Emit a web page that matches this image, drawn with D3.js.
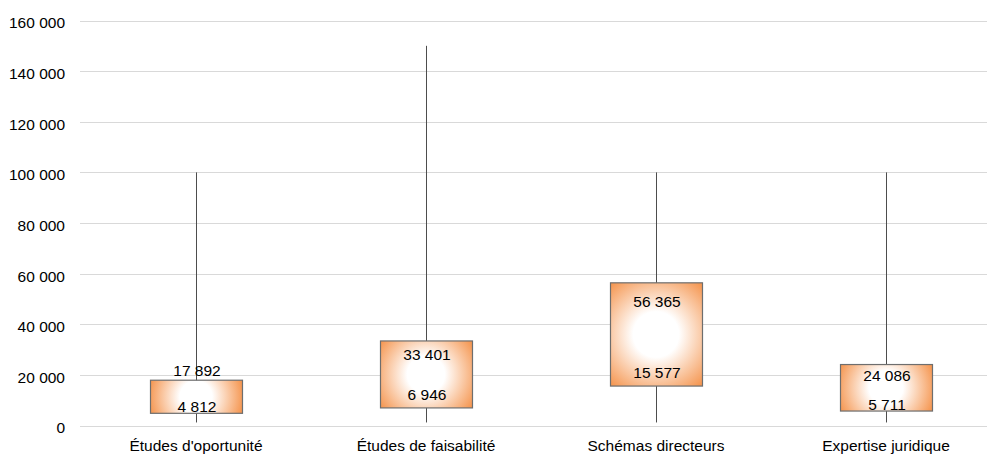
<!DOCTYPE html>
<html>
<head>
<meta charset="utf-8">
<script src="https://cdn.jsdelivr.net/npm/d3@7"></script>
<style>
  html, body { margin: 0; padding: 0; background: #fff; }
  svg { display: block; font-family: "Liberation Sans", Arial, sans-serif; }
</style>
</head>
<body>
<svg id="chart" width="987" height="454"></svg>
<script>
const categories = ["Études d'oportunité", "Études de faisabilité", "Schémas directeurs", "Expertise juridique"];
const minValues = [1200, 1200, 1200, 1200];
const q1Values = [4812, 6946, 15577, 5711];
const q3Values = [17892, 33401, 56365, 24086];
const maxValues = [100000, 150000, 100000, 100000];
const yTicks = [0, 20000, 40000, 60000, 80000, 100000, 120000, 140000, 160000];

const svg = d3.select("#chart");
const fmt = v => d3.format(",")(v).replace(/,/g, " ");

const x = d3.scaleBand().domain(categories).range([81, 1001]).paddingInner(0.6).paddingOuter(0.3);
const y = d3.scaleLinear().domain([0, 160000]).range([425.5, 20.5]);

// gridlines
svg.append("g").selectAll("line").data(yTicks).join("line")
  .attr("x1", 80).attr("x2", 987)
  .attr("y1", d => Math.round(y(d)) + 0.5).attr("y2", d => Math.round(y(d)) + 0.5)
  .attr("stroke", "#d9d9d9").attr("stroke-width", 1);

// y axis labels
const yAxis = d3.axisLeft(y).tickValues(yTicks).tickFormat(fmt).tickSize(0).tickPadding(0);
const ga = svg.append("g").attr("transform", "translate(65,0)").call(yAxis);
ga.select(".domain").remove();
ga.selectAll("text").attr("font-size", "15.5px").attr("fill", "#000")
  .attr("font-family", "'Liberation Sans', Arial, sans-serif")
  .attr("dy", "0.48em");

// x axis labels
const xAxis = d3.axisBottom(x).tickSize(0).tickPadding(0);
const gx = svg.append("g").attr("transform", "translate(0,440)").call(xAxis);
gx.select(".domain").remove();
gx.selectAll("text").attr("font-size", "15.5px").attr("fill", "#000")
  .attr("font-family", "'Liberation Sans', Arial, sans-serif")
  .attr("dy", "0.71em");

const data = categories.map((c, i) => ({ c, i, min: minValues[i], q1: q1Values[i], q3: q3Values[i], max: maxValues[i] }));

// gradients
const defs = svg.append("defs");
data.forEach(d => {
  const cx = x(d.c) + x.bandwidth() / 2;
  const cy = (y(d.q1) + y(d.q3)) / 2;
  const w = x.bandwidth(), h = y(d.q1) - y(d.q3);
  const r = 0.55 * Math.sqrt(w * w + h * h);
  const g = defs.append("radialGradient").attr("id", "grad" + d.i)
    .attr("gradientUnits", "userSpaceOnUse")
    .attr("cx", cx).attr("cy", cy).attr("r", r);
  g.append("stop").attr("offset", 0).attr("stop-color", "#ffffff");
  g.append("stop").attr("offset", 0.3).attr("stop-color", "#ffffff");
  g.append("stop").attr("offset", 1).attr("stop-color", "#f3822f");
});

// whiskers
svg.append("g").selectAll("line").data(data).join("line")
  .attr("x1", d => Math.round(x(d.c) + x.bandwidth() / 2) + 0.5)
  .attr("x2", d => Math.round(x(d.c) + x.bandwidth() / 2) + 0.5)
  .attr("y1", d => y(d.min)).attr("y2", d => y(d.max))
  .attr("stroke", "#4d4d4d").attr("stroke-width", 1);

// boxes
svg.append("g").selectAll("rect").data(data).join("rect")
  .attr("x", d => Math.round(x(d.c)) + 0.5)
  .attr("width", x.bandwidth())
  .attr("y", d => y(d.q3)).attr("height", d => y(d.q1) - y(d.q3))
  .attr("fill", d => `url(#grad${d.i})`)
  .attr("stroke", "#6e6e6e").attr("stroke-width", 1.2);

// labels
const lab = svg.append("g").attr("font-size", "15.5px").attr("fill", "#000").attr("text-anchor", "middle");
data.forEach(d => {
  const cx = x(d.c) + x.bandwidth() / 2 + 1;
  const top = y(d.q3), bot = y(d.q1), h = bot - top;
  const topY = h < 40 ? top - 4.4 : top + Math.min(24, 10 + h * 0.14);
  const botY = h < 50 ? bot - 1.2 : bot - 7.6;
  lab.append("text").attr("x", cx).attr("y", topY).text(fmt(d.q3));
  lab.append("text").attr("x", cx).attr("y", botY).text(fmt(d.q1));
});
</script>
</body>
</html>
